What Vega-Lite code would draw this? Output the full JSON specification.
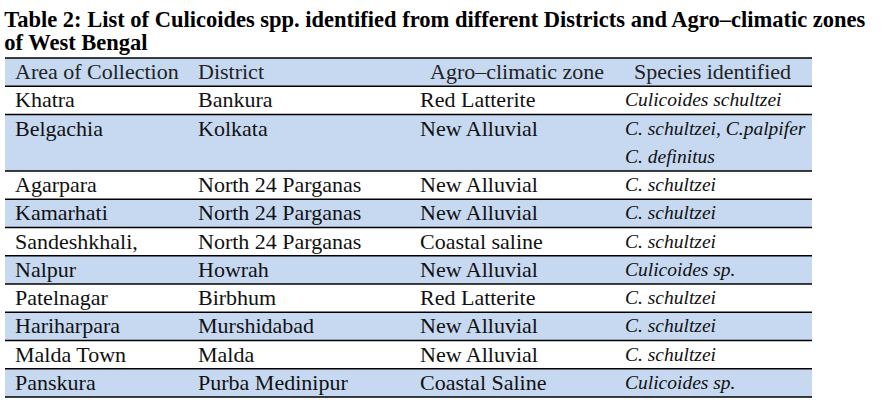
{
  "$schema": "https://vega.github.io/schema/vega-lite/v6.json",
  "width": 807,
  "height": 339,
  "autosize": {"type": "none"},
  "padding": {"left": 5, "top": 58, "right": 75, "bottom": 22},
  "background": "white",
  "config": {"view": {"stroke": null}, "font": "Liberation Serif"},
  "title": {
    "text": ["Table 2: List of Culicoides spp. identified from different Districts and Agro–climatic zones", "of West  Bengal"],
    "anchor": "start",
    "font": "Liberation Serif",
    "fontSize": 22.5,
    "fontWeight": "bold",
    "color": "#000000",
    "lineHeight": 23,
    "baseline": "bottom",
    "offset": -20
  },
  "data": {
    "values": [
      {"row": 0, "slot": 0, "line": 1, "col": 1, "text": "Area of Collection"},
      {"row": 0, "slot": 0, "line": 1, "col": 2, "text": "District"},
      {"row": 0, "slot": 0, "line": 1, "col": 3, "text": "Agro–climatic zone"},
      {"row": 0, "slot": 0, "line": 1, "col": 4, "text": "Species identified"},
      {"row": 1, "slot": 1, "line": 1, "col": 1, "text": "Khatra"},
      {"row": 1, "slot": 1, "line": 1, "col": 2, "text": "Bankura"},
      {"row": 1, "slot": 1, "line": 1, "col": 3, "text": "Red Latterite"},
      {"row": 1, "slot": 1, "line": 1, "col": 4, "text": "Culicoides schultzei"},
      {"row": 2, "slot": 2, "line": 1, "col": 1, "text": "Belgachia"},
      {"row": 2, "slot": 2, "line": 1, "col": 2, "text": "Kolkata"},
      {"row": 2, "slot": 2, "line": 1, "col": 3, "text": "New Alluvial"},
      {"row": 2, "slot": 2, "line": 1, "col": 4, "text": "C. schultzei, C.palpifer"},
      {"row": 2, "slot": 3, "line": 2, "col": 4, "text": "C. definitus"},
      {"row": 3, "slot": 4, "line": 1, "col": 1, "text": "Agarpara"},
      {"row": 3, "slot": 4, "line": 1, "col": 2, "text": "North 24 Parganas"},
      {"row": 3, "slot": 4, "line": 1, "col": 3, "text": "New Alluvial"},
      {"row": 3, "slot": 4, "line": 1, "col": 4, "text": "C. schultzei"},
      {"row": 4, "slot": 5, "line": 1, "col": 1, "text": "Kamarhati"},
      {"row": 4, "slot": 5, "line": 1, "col": 2, "text": "North 24 Parganas"},
      {"row": 4, "slot": 5, "line": 1, "col": 3, "text": "New Alluvial"},
      {"row": 4, "slot": 5, "line": 1, "col": 4, "text": "C. schultzei"},
      {"row": 5, "slot": 6, "line": 1, "col": 1, "text": "Sandeshkhali,"},
      {"row": 5, "slot": 6, "line": 1, "col": 2, "text": "North 24 Parganas"},
      {"row": 5, "slot": 6, "line": 1, "col": 3, "text": "Coastal saline"},
      {"row": 5, "slot": 6, "line": 1, "col": 4, "text": "C. schultzei"},
      {"row": 6, "slot": 7, "line": 1, "col": 1, "text": "Nalpur"},
      {"row": 6, "slot": 7, "line": 1, "col": 2, "text": "Howrah"},
      {"row": 6, "slot": 7, "line": 1, "col": 3, "text": "New Alluvial"},
      {"row": 6, "slot": 7, "line": 1, "col": 4, "text": "Culicoides sp."},
      {"row": 7, "slot": 8, "line": 1, "col": 1, "text": "Patelnagar"},
      {"row": 7, "slot": 8, "line": 1, "col": 2, "text": "Birbhum"},
      {"row": 7, "slot": 8, "line": 1, "col": 3, "text": "Red Latterite"},
      {"row": 7, "slot": 8, "line": 1, "col": 4, "text": "C. schultzei"},
      {"row": 8, "slot": 9, "line": 1, "col": 1, "text": "Hariharpara"},
      {"row": 8, "slot": 9, "line": 1, "col": 2, "text": "Murshidabad"},
      {"row": 8, "slot": 9, "line": 1, "col": 3, "text": "New Alluvial"},
      {"row": 8, "slot": 9, "line": 1, "col": 4, "text": "C. schultzei"},
      {"row": 9, "slot": 10, "line": 1, "col": 1, "text": "Malda Town"},
      {"row": 9, "slot": 10, "line": 1, "col": 2, "text": "Malda"},
      {"row": 9, "slot": 10, "line": 1, "col": 3, "text": "New Alluvial"},
      {"row": 9, "slot": 10, "line": 1, "col": 4, "text": "C. schultzei"},
      {"row": 10, "slot": 11, "line": 1, "col": 1, "text": "Panskura"},
      {"row": 10, "slot": 11, "line": 1, "col": 2, "text": "Purba Medinipur"},
      {"row": 10, "slot": 11, "line": 1, "col": 3, "text": "Coastal Saline"},
      {"row": 10, "slot": 11, "line": 1, "col": 4, "text": "Culicoides sp."}
    ]
  },
  "encoding": {
    "y": {
      "field": "slot",
      "type": "ordinal",
      "scale": {"type": "band", "domain": [0, 1, 2, 3, 4, 5, 6, 7, 8, 9, 10, 11], "paddingInner": 0, "paddingOuter": 0},
      "axis": null
    }
  },
  "layer": [
    {
      "transform": [{"filter": "datum.row % 2 == 0"}],
      "mark": {"type": "rect", "color": "#c6d9f1"},
      "encoding": {}
    },
    {
      "transform": [{"filter": "datum.line == 1 && datum.col == 1"}],
      "mark": {"type": "rule", "color": "#000000", "strokeWidth": 1.5},
      "encoding": {"y": {"field": "slot", "type": "ordinal", "bandPosition": 0, "axis": null}}
    },
    {
      "transform": [{"filter": "datum.row == 10 && datum.col == 1"}],
      "mark": {"type": "rule", "color": "#000000", "strokeWidth": 1.5},
      "encoding": {"y": {"field": "slot", "type": "ordinal", "bandPosition": 1, "axis": null}}
    },
    {
      "transform": [{"filter": "datum.row > 0 && datum.col < 4"}],
      "mark": {"type": "text", "align": "left", "baseline": "middle", "fontSize": 22, "color": "#111111"},
      "encoding": {
        "x": {"field": "col", "type": "quantitative", "scale": {"domain": [1, 2, 3, 4], "range": [10, 193, 415, 620]}, "axis": null},
        "text": {"field": "text"}
      }
    },
    {
      "transform": [{"filter": "datum.row > 0 && datum.col == 4"}],
      "mark": {"type": "text", "align": "left", "baseline": "middle", "fontSize": 19.5, "fontStyle": "italic", "color": "#111111"},
      "encoding": {
        "x": {"field": "col", "type": "quantitative", "scale": {"domain": [1, 2, 3, 4], "range": [10, 193, 415, 620]}, "axis": null},
        "text": {"field": "text"}
      }
    },
    {
      "transform": [{"filter": "datum.row == 0"}],
      "mark": {"type": "text", "align": "left", "baseline": "middle", "fontSize": 22, "color": "#222222"},
      "encoding": {
        "x": {"field": "col", "type": "quantitative", "scale": {"domain": [1, 2, 3, 4], "range": [10, 193, 425, 629]}, "axis": null},
        "text": {"field": "text"}
      }
    }
  ],
  "resolve": {"scale": {"x": "independent"}}
}
